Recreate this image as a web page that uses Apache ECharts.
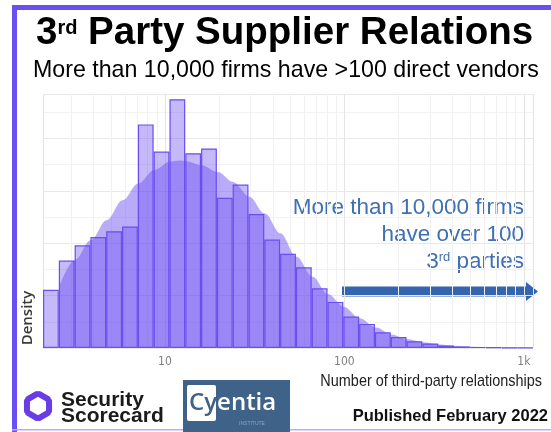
<!DOCTYPE html>
<html>
<head>
<meta charset="utf-8">
<script src="https://cdn.jsdelivr.net/npm/echarts@6/dist/echarts.min.js"></script>
<style>
html, body { margin: 0; padding: 0; background: #fff; }
#chart { width: 551px; height: 432px; }
</style>
</head>
<body>
<div id="chart"></div>
<script>
// Histogram bin edges (log spaced) and bar heights (density units).
const binEdges = [2.09, 2.56, 3.14, 3.84, 4.71, 5.77, 7.06, 8.65, 10.6, 13.0, 15.9, 19.5, 23.8, 29.2, 35.8, 43.8,
    53.7, 65.8, 80.6, 98.7, 121, 148, 181, 222, 272, 333, 408, 500, 612, 750, 919, 1125];
const binHeights = [1.11, 1.67, 1.96, 2.12, 2.23, 2.32, 4.27, 3.75, 4.75, 3.72, 3.81, 2.87, 3.12, 2.56, 2.07, 1.80,
    1.54, 1.14, 0.88, 0.60, 0.46, 0.30, 0.21, 0.13, 0.086, 0.048, 0.029, 0.02, 0.012, 0.008, 0.005];

// Smoothed density curve.
const densityX = [2.57, 3.15, 3.87, 4.73, 5.81, 7.1, 8.72, 10.7, 12.1, 12.9, 16, 19.7, 24, 29.5, 36, 44, 54, 66.5,
    81, 99, 122, 150, 183, 223, 274, 332, 402, 591, 1120];
const densityY = [1.17, 1.68, 2.06, 2.44, 2.82, 3.14, 3.40, 3.56, 3.58, 3.57, 3.49, 3.36, 3.17, 2.89, 2.57, 2.19, 1.74,
    1.36, 1.03, 0.79, 0.57, 0.39, 0.26, 0.17, 0.11, 0.07, 0.044, 0.02, 0.004];

// Axis labels and faint minor grid lines on the log axis.
const xTickLabels = {10: '10', 100: '100', 1000: '1k'};
const xMinorGrid = [3, 4, 5, 6, 7, 8, 9, 20, 30, 40, 50, 60, 70, 80, 90, 200, 300, 400, 500, 600, 700, 800, 900];

const purple = '#6b4ff5';
const blue = '#4070b4';
const narrowFont = "'Liberation Sans Narrow', 'DejaVu Sans Condensed', 'Roboto Condensed', 'Liberation Sans', sans-serif";

const $chart = document.getElementById('chart');
const chart = echarts.init($chart, null, {renderer: 'canvas'});

// Security Scorecard icon: six thick hexagon segments.
const logoParts = [];
const cx = 38, cy = 406, r = 12;
for (let k = 0; k < 6; k++) {
    const a0 = Math.PI / 6 + k * Math.PI / 3;
    const a1 = a0 + Math.PI / 3;
    logoParts.push({
        type: 'line',
        shape: {
            x1: cx + r * Math.cos(a0 + 0.12), y1: cy + r * Math.sin(a0 + 0.12),
            x2: cx + r * Math.cos(a1 - 0.12), y2: cy + r * Math.sin(a1 - 0.12)
        },
        style: {stroke: '#6a3ce6', lineWidth: 6, lineCap: 'round'}
    });
}

const logAxisBase = {
    type: 'log',
    logBase: 10,
    min: binEdges[0],
    max: binEdges[binEdges.length - 1],
    position: 'bottom',
    axisLine: {show: false},
    axisTick: {show: false}
};

const option = {
    animation: false,
    title: [{
        text: '{a|3}{s|rd}{a| Party Supplier Relations}',
        left: 36,
        top: 14,
        padding: 0,
        textStyle: {
            rich: {
                a: {fontSize: 38.5, fontWeight: 'bold', fontFamily: 'Liberation Sans', color: '#000', lineHeight: 38},
                s: {fontSize: 20, fontWeight: 'bold', fontFamily: 'Liberation Sans', color: '#000', verticalAlign: 'top', padding: [4, 0, 0, 0]}
            }
        }
    }, {
        text: 'More than 10,000 firms have >100 direct vendors',
        left: 33,
        top: 59,
        padding: 0,
        textStyle: {fontSize: 23.2, fontWeight: 'normal', fontFamily: 'Liberation Sans', color: '#000'}
    }],
    grid: {left: 43, right: 18, top: 94, bottom: 84},
    xAxis: [{
        type: 'category',
        data: binEdges.slice(0, -1).map(String),
        show: false,
        boundaryGap: true
    }, {
        ...logAxisBase,
        axisLabel: {
            margin: 8,
            color: '#808080',
            fontSize: 12,
            fontFamily: narrowFont,
            showMinLabel: false,
            showMaxLabel: false,
            formatter: (v) => xTickLabels[Math.round(v)] || ''
        },
        splitLine: {show: true, lineStyle: {color: '#e4e4e4', width: 1}}
    }, {
        // minor vertical grid lines only
        ...logAxisBase,
        axisTick: {show: false, customValues: xMinorGrid},
        axisLabel: {show: false},
        splitLine: {show: true, lineStyle: {color: '#f1f1f1', width: 1}}
    }],
    yAxis: {
        type: 'value',
        min: 0,
        max: 4.85,
        interval: 1,
        axisLine: {show: false},
        axisTick: {show: false},
        axisLabel: {show: false},
        splitLine: {lineStyle: {color: '#e8e8e8'}},
        minorTick: {show: false, splitNumber: 2},
        minorSplitLine: {show: true, lineStyle: {color: '#f2f2f2'}}
    },
    series: [{
        type: 'line',
        xAxisIndex: 1,
        data: densityX.map((x, i) => [x, densityY[i]]),
        smooth: 0.35,
        smoothMonotone: 'x',
        symbol: 'none',
        lineStyle: {width: 0},
        areaStyle: {color: 'rgba(108, 78, 240, 0.68)', origin: 'start'},
        z: 2
    }, {
        type: 'bar',
        xAxisIndex: 0,
        data: binHeights,
        barCategoryGap: '0%',
        itemStyle: {color: 'rgba(110, 80, 240, 0.4)', borderColor: '#6a4ef0', borderWidth: 1.2},
        z: 3
    }],
    graphic: [
        // purple frame
        {type: 'rect', shape: {x: 12, y: 5, width: 5, height: 427}, style: {fill: purple}},
        {type: 'rect', shape: {x: 12, y: 5, width: 539, height: 5}, style: {fill: purple}},
        {type: 'rect', shape: {x: 12, y: 429, width: 539, height: 1.5}, style: {fill: '#b9abf8'}},
        // y axis title
        {
            type: 'text', x: 28, y: 318, rotation: Math.PI / 2,
            style: {
                text: 'Density', fill: '#3a3a3a', fontSize: 15, fontFamily: 'Open Sans', fontWeight: 600,
                align: 'center', verticalAlign: 'middle'
            }
        },
        // x axis title (condensed look)
        {
            type: 'text', x: 542, y: 381, scaleX: 0.85,
            style: {
                text: 'Number of third-party relationships', fill: '#222', fontSize: 17,
                fontFamily: 'Liberation Sans', align: 'right', verticalAlign: 'middle'
            }
        },
        // annotation
        {
            type: 'text', x: 524, y: 194,
            style: {
                text: 'More than 10,000 firms\nhave over 100\n{n|3}{s|rd}{n| parties}',
                fill: blue, fontSize: 22.5, fontFamily: 'Liberation Sans', lineHeight: 27,
                align: 'right', verticalAlign: 'top',
                rich: {
                    n: {fontSize: 22.5, fontFamily: 'Liberation Sans', fill: blue, lineHeight: 27},
                    s: {fontSize: 13, fontFamily: 'Liberation Sans', fill: blue, verticalAlign: 'top', padding: [3, 0, 0, 0]}
                }
            }
        },
        {
            type: 'polygon',
            shape: {points: [[342, 286.5], [526, 286.5], [526, 282], [538, 291.5], [526, 301], [526, 296.5], [342, 296.5]]},
            style: {fill: '#3565ae'}
        },
        // footer
        ...logoParts,
        {
            type: 'text', x: 61, y: 392,
            style: {
                text: 'Security\nScorecard', fill: '#1b1b1b', fontSize: 21, fontWeight: 'bold',
                fontFamily: 'Liberation Sans', lineHeight: 16, verticalAlign: 'top'
            }
        },
        {type: 'rect', shape: {x: 183, y: 380, width: 107, height: 52}, style: {fill: '#3f6289'}},
        {type: 'rect', shape: {x: 187, y: 385, width: 29, height: 36, r: 2}, style: {fill: '#ffffff'}},
        {
            type: 'text', x: 189, y: 403,
            style: {
                text: '{c|Cy}{e|entia}', verticalAlign: 'middle',
                rich: {
                    c: {fontSize: 24, fontWeight: 600, fontFamily: 'Open Sans', fill: '#3f6289'},
                    e: {fontSize: 24, fontWeight: 600, fontFamily: 'Open Sans', fill: '#ffffff'}
                }
            }
        },
        {
            type: 'text', x: 252, y: 424,
            style: {text: 'INSTITUTE', fill: '#8ea4bf', fontSize: 5, fontFamily: 'Liberation Sans', align: 'center', verticalAlign: 'middle'}
        },
        {
            type: 'text', x: 548, y: 416,
            style: {
                text: 'Published February 2022', fill: '#111', fontSize: 16.5, fontWeight: 'bold',
                fontFamily: 'Liberation Sans', align: 'right', verticalAlign: 'middle'
            }
        }
    ]
};

chart.setOption(option);
</script>
</body>
</html>
